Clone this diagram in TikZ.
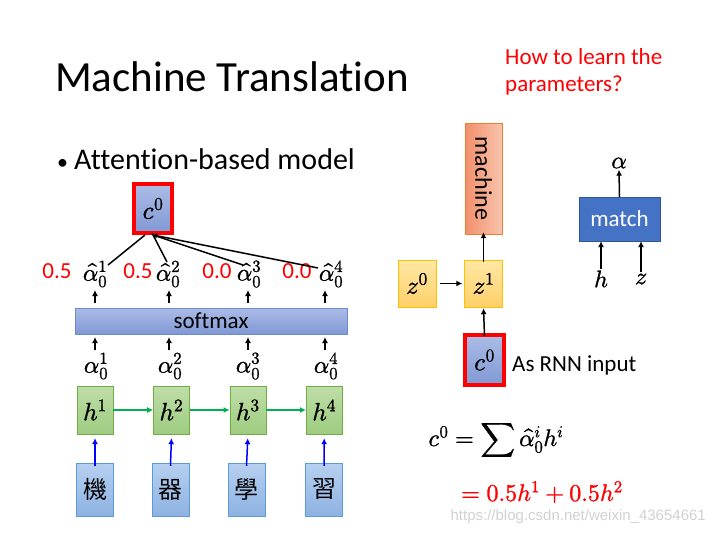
\documentclass[tikz,border=0pt]{standalone}
\usepackage{amsmath}
\usepackage{fontspec}
\usepackage{unicode-math}
\setmainfont{Carlito}[Ligatures=NoCommon]
\setmathfont{Latin Modern Math}[FakeBold=1.2]
\newfontfamily\cjk{Noto Sans CJK TC}
\newfontfamily\markfont{Liberation Sans}
\usetikzlibrary{positioning, arrows.meta}

\definecolor{redline}{RGB}{255,0,0}
\definecolor{ctxtop}{RGB}{172,188,230}
\definecolor{ctxbot}{RGB}{128,152,212}
\definecolor{ctxedge}{RGB}{110,140,205}
\definecolor{hidtop}{RGB}{190,222,168}
\definecolor{hidbot}{RGB}{158,204,128}
\definecolor{hidedge}{RGB}{112,173,71}
\definecolor{wordtop}{RGB}{182,208,240}
\definecolor{wordbot}{RGB}{142,178,226}
\definecolor{wordedge}{RGB}{91,155,213}
\definecolor{ztop}{RGB}{255,232,165}
\definecolor{zbot}{RGB}{255,208,105}
\definecolor{zedge}{RGB}{255,192,0}
\definecolor{outleft}{RGB}{241,143,108}
\definecolor{outright}{RGB}{248,196,172}
\definecolor{outedge}{RGB}{237,125,49}
\definecolor{matchfill}{RGB}{68,114,196}
\definecolor{matchedge}{RGB}{47,85,151}
\definecolor{flowgreen}{RGB}{0,176,80}
\definecolor{flowblue}{RGB}{0,0,255}

\begin{document}
\begin{tikzpicture}[x=1pt, y=-1pt, >={Latex[length=6pt,width=6pt]},
  hid node/.style={draw=hidedge, top color=hidtop, bottom color=hidbot,
    minimum width=36pt, minimum height=48pt, inner sep=0pt, font=\fontsize{25}{29}\selectfont},
  word node/.style={draw=wordedge, top color=wordtop, bottom color=wordbot,
    minimum width=37pt, minimum height=53pt, inner sep=0pt, font=\cjk\fontsize{24}{28}\selectfont},
  ctx node/.style={draw=redline, line width=4pt, top color=ctxtop, bottom color=ctxbot,
    minimum width=38pt, minimum height=49pt, inner sep=0pt, font=\fontsize{25}{29}\selectfont},
  z node/.style={draw=zedge, top color=ztop, bottom color=zbot,
    minimum width=38pt, minimum height=47pt, inner sep=0pt, font=\fontsize{25}{29}\selectfont},
  alpha lab/.style={inner sep=1pt, font=\fontsize{24}{28}\selectfont},
  weight lab/.style={text=redline, inner sep=1pt, font=\fontsize{23}{27}\selectfont},
  up arrow/.style={->, line width=1.5pt},
  soft text/.style={font=\fontsize{23}{27}\selectfont}]

\useasboundingbox (0,0) rectangle (712,536);

% title and notes
\node[anchor=base west, inner sep=0pt, font=\fontsize{43}{48}\selectfont] (title) at (55,91) {Machine Translation};
\node[anchor=north west, inner sep=0pt, align=left, text=redline, font=\fontsize{23}{27}\selectfont] (question) at (505,48) {How to learn the\\parameters?};
\node[anchor=base west, inner sep=0pt, font=\fontsize{30}{34}\selectfont] (bullet) at (57,169) {{\fontsize{22}{24}\selectfont\textbullet}\hspace{6pt}Attention-based model};

% encoder
\node[hid node] (h1) at (95,410) {$h^1$};
\node[hid node] (h2) [right=40pt of h1] {$h^2$};
\node[hid node] (h3) [right=40pt of h2] {$h^3$};
\node[hid node] (h4) [right=40pt of h3] {$h^4$};

\node[word node] (w1) at (95,489.5) {機};
\node[word node] (w2) at (170.5,489.5) {器};
\node[word node] (w3) at (246.5,489.5) {學};
\node[word node] (w4) at (324,489.5) {習};

\draw[->, flowgreen, line width=1.3pt] (h1) -- (h2);
\draw[->, flowgreen, line width=1.3pt] (h2) -- (h3);
\draw[->, flowgreen, line width=1.3pt] (h3) -- (h4);

\draw[->, flowblue, line width=1.5pt] ([yshift=-3pt]w1.north) -- ([yshift=-4pt]h1.south);
\draw[->, flowblue, line width=1.5pt] ([yshift=-3pt]w2.north) -- ([yshift=-4pt]h2.south);
\draw[->, flowblue, line width=1.5pt] ([yshift=-3pt]w3.north) -- ([yshift=-4pt]h3.south);
\draw[->, flowblue, line width=1.5pt] ([yshift=-3pt]w4.north) -- ([yshift=-4pt]h4.south);

% attention scores
\node[alpha lab] (s1) at (96,366) {$\alpha_0^1$};
\node[alpha lab] (s2) at (170,366) {$\alpha_0^2$};
\node[alpha lab] (s3) at (248,366) {$\alpha_0^3$};
\node[alpha lab] (s4) at (326,366) {$\alpha_0^4$};

\node[draw=ctxedge, top color=ctxtop, bottom color=ctxbot, minimum width=272pt, minimum height=26pt,
  inner sep=0pt, soft text] (softmax) at (211,321) {softmax};

\draw[up arrow] (95,350) -- (95,337);
\draw[up arrow] (169,350) -- (169,337);
\draw[up arrow] (248,350) -- (248,337);
\draw[up arrow] (325,350) -- (325,337);

\draw[up arrow] (95,303) -- (95,290);
\draw[up arrow] (169,303) -- (169,290);
\draw[up arrow] (248,303) -- (248,290);
\draw[up arrow] (325,303) -- (325,290);

\node[alpha lab] (a1) at (95,274) {$\widehat{\alpha}_0^1$};
\node[alpha lab] (a2) at (168,274) {$\widehat{\alpha}_0^2$};
\node[alpha lab] (a3) at (249,274) {$\widehat{\alpha}_0^3$};
\node[alpha lab] (a4) at (331,274) {$\widehat{\alpha}_0^4$};

\node[weight lab] (v1) at (57,271) {0.5};
\node[weight lab] (v2) at (138,271) {0.5};
\node[weight lab] (v3) at (217,271) {0.0};
\node[weight lab] (v4) at (297,271) {0.0};

\node[ctx node] (c0) at (153,208.5) {$c^0$};

\coordinate (j1) at (108,265);
\coordinate (j2) at (167,262);
\coordinate (j3) at (243,265);
\coordinate (j4) at (318,268);
\draw[line width=1.5pt] (j1) -- (145,235);
\draw[line width=1.5pt] (j2) -- (152,233);
\draw[line width=1.5pt] (j3) -- (c0.south);
\draw[line width=1.5pt, -{Latex[length=4pt,width=6pt]}] (j4) -- (c0.south);

% decoder
\node[draw=outedge, left color=outleft, right color=outright, minimum width=37pt, minimum height=111pt,
  inner sep=0pt] (mach) at (483.5,178.5) {};
\node[rotate=-90, font=\fontsize{24}{28}\selectfont, inner sep=0pt] (machtext) at (mach.center) {machine};

\node[z node] (z0) at (417,283.5) {$z^0$};
\node[z node] (z1) at (483.5,283.5) {$z^1$};
\node[ctx node, minimum width=39pt, minimum height=50pt] (c0b) at (484.5,360) {$c^0$};
\node[anchor=west, inner sep=0pt, soft text] (rnn) at (512,365) {As RNN input};

\draw[up arrow] ([xshift=4pt]z0.east) -- ([xshift=-2pt]z1.west);
\draw[up arrow] ([yshift=-2pt]z1.north) -- ([yshift=2pt]mach.south);
\draw[up arrow] ([yshift=-3pt]c0b.north) -- ([yshift=-1pt]z1.south);

% match function
\node[draw=matchedge, fill=matchfill, text=white, minimum width=81pt, minimum height=44pt,
  inner sep=0pt, soft text] (match) at (619.5,219) {match};
\node[alpha lab] (alpha) at (619,163) {$\alpha$};
\node[alpha lab] (hin) at (601,279) {$h$};
\node[alpha lab] (zin) at (641,279) {$z$};
\draw[up arrow] (match.north) -- (alpha.south);
\draw[up arrow] (hin.north) -- (match.south -| hin);
\draw[up arrow] (zin.north) -- (match.south -| zin);

% weighted sum
\node[inner sep=0pt, font=\fontsize{24}{28}\selectfont] (sum) at (496,440) {$c^0=\displaystyle\sum\widehat{\alpha}_0^i h^i$};
\node[anchor=west, inner sep=0pt, text=redline, font=\fontsize{24}{28}\selectfont] (result) at (461,492) {$=0.5h^1+0.5h^2$};

\node[anchor=east, inner sep=0pt, text=black!18, font=\markfont\fontsize{15}{18}\selectfont] (mark) at (706,517) {https://blog.csdn.net/weixin\_43654661};

\end{tikzpicture}
\end{document}
